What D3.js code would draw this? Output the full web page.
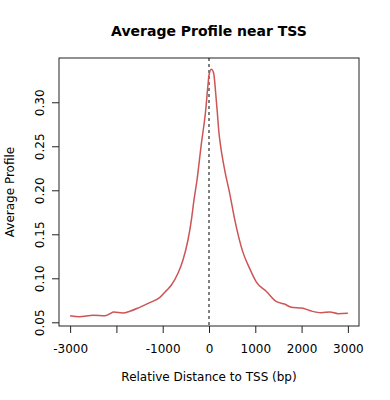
<!DOCTYPE html>
<html>
<head>
<meta charset="utf-8">
<script src="https://cdn.jsdelivr.net/npm/d3@7"></script>
<style>
  body { margin: 0; background: #fff; }
  svg { display: block; font-family: "DejaVu Sans", sans-serif; }
</style>
</head>
<body>
<div id="chart"></div>
<script>
// profile: distance to TSS (bp) and average value
var positions = [-3000, -2800, -2500, -2250, -2150, -2060, -1860, -1710, -1500, -1280,
    -1060, -920, -812, -670, -562, -454, -380, -324, -259, -164, -78, -22, 0, 52,
    101, 145, 181, 216, 253, 339, 447, 555, 730, 880, 1020, 1240, 1460, 1630, 1780,
    2000, 2210, 2430, 2610, 2790, 3000];
var profile = [0.0575, 0.0564, 0.0580, 0.0575, 0.0594, 0.0617, 0.0606, 0.0625, 0.0670, 0.0723,
    0.0784, 0.086, 0.0924, 0.1057, 0.1208, 0.1435, 0.1663, 0.189, 0.2117, 0.2534, 0.2875, 0.3197, 0.331, 0.3375,
    0.333, 0.310, 0.2875, 0.2648, 0.2495, 0.223, 0.1966, 0.167, 0.130, 0.111, 0.096, 0.085, 0.0734, 0.0708, 0.067,
    0.0663, 0.0628, 0.0609, 0.0617, 0.0598, 0.0602];
var xTicks = [-3000, -2000, -1000, 0, 1000, 2000, 3000];
var xTickLabels = ['-3000', '', '-1000', '0', '1000', '2000', '3000'];
var yTicks = [0.05, 0.10, 0.15, 0.20, 0.25, 0.30];

var width = 390, height = 400;
var plotLeft = 59, plotRight = 359, plotTop = 58, plotBottom = 326;

var svg = d3.select('#chart').append('svg')
    .attr('width', width)
    .attr('height', height);
svg.append('rect').attr('width', width).attr('height', height).attr('fill', '#fff');

var x = d3.scaleLinear().domain([-3240, 3240]).range([plotLeft, plotRight]);
var y = d3.scaleLinear().domain([0.0458, 0.3503]).range([plotBottom, plotTop]);

var data = positions.map(function(p, i) {
    return { pos: p, val: profile[i] };
});

// axes
var xAxis = d3.axisBottom(x)
    .tickValues(xTicks)
    .tickFormat(function(d, i) { return xTickLabels[i]; })
    .tickSize(7)
    .tickPadding(11);
var gx = svg.append('g')
    .attr('transform', 'translate(0,' + plotBottom + ')')
    .call(xAxis);
gx.select('.domain').remove();

var yAxis = d3.axisLeft(y)
    .tickValues(yTicks)
    .tickFormat(d3.format('.2f'))
    .tickSize(7);
var gy = svg.append('g')
    .attr('transform', 'translate(' + plotLeft + ',0)')
    .call(yAxis);
gy.select('.domain').remove();
gy.selectAll('.tick text')
    .attr('transform', 'rotate(-90)')
    .attr('x', 0)
    .attr('y', -15.5)
    .attr('dy', null)
    .attr('text-anchor', 'middle');

svg.selectAll('.tick line').attr('stroke', '#222');
svg.selectAll('.tick text')
    .attr('fill', '#000')
    .style('font-size', '12px')
    .style('font-family', '"DejaVu Sans", sans-serif');

// plot box
svg.append('rect')
    .attr('x', plotLeft)
    .attr('y', plotTop)
    .attr('width', plotRight - plotLeft)
    .attr('height', plotBottom - plotTop)
    .attr('fill', 'none')
    .attr('stroke', '#222')
    .attr('stroke-width', 1);

// TSS marker
svg.append('line')
    .attr('x1', x(0)).attr('x2', x(0))
    .attr('y1', plotTop).attr('y2', plotBottom)
    .attr('stroke', '#000')
    .attr('stroke-width', 1)
    .attr('stroke-dasharray', '3,3');

var line = d3.line()
    .x(function(d) { return x(d.pos); })
    .y(function(d) { return y(d.val); })
    .curve(d3.curveMonotoneX);

svg.append('path')
    .datum(data)
    .attr('d', line)
    .attr('fill', 'none')
    .attr('stroke', '#cd5555')
    .attr('stroke-width', 1.5)
    .attr('stroke-linejoin', 'round');

// titles
svg.append('text')
    .attr('x', (plotLeft + plotRight) / 2)
    .attr('y', 35.5)
    .attr('text-anchor', 'middle')
    .style('font-size', '14px')
    .style('font-weight', 'bold')
    .text('Average Profile near TSS');

svg.append('text')
    .attr('x', (plotLeft + plotRight) / 2)
    .attr('y', 381)
    .attr('text-anchor', 'middle')
    .style('font-size', '12px')
    .text('Relative Distance to TSS (bp)');

svg.append('text')
    .attr('transform', 'translate(13.5,' + (plotTop + plotBottom) / 2 + ') rotate(-90)')
    .attr('text-anchor', 'middle')
    .style('font-size', '12px')
    .text('Average Profile');
</script>
</body>
</html>
